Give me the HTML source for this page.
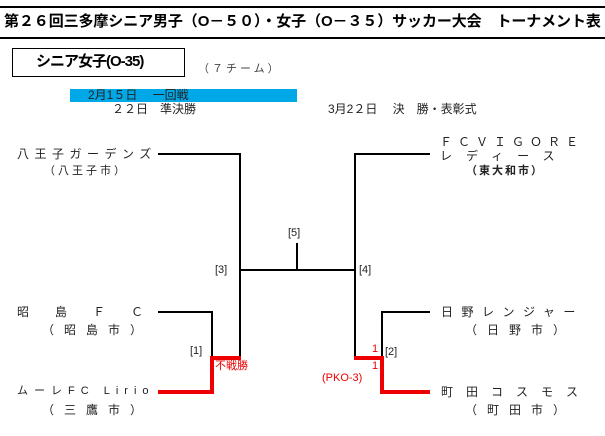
<!DOCTYPE html>
<html><head><meta charset="utf-8"><style>
body{margin:0;width:605px;height:436px;background:#fff;position:relative;overflow:hidden;font-family:"Liberation Sans","Noto Sans CJK JP",sans-serif;}
.t{position:absolute;white-space:nowrap;font-size:12px;color:#222;line-height:1;}
</style></head><body>
<div style="position:absolute;left:0;top:6px;width:605px;height:2px;background:#000"></div>
<div style="position:absolute;left:0;top:37px;width:605px;height:2px;background:#000"></div>
<div class="t" style="left:4px;top:14px;font-size:15px;font-weight:bold;color:#000;letter-spacing:-0.1px">第２６回三多摩シニア男子（O－５０）・女子（O－３５）サッカー大会　トーナメント表</div>
<div style="position:absolute;left:12px;top:48px;width:171px;height:27px;border:1px solid #000;"></div>
<div class="t" style="left:36px;top:54px;font-size:15px;font-weight:bold;color:#000;letter-spacing:-1px">シニア女子(O-35)</div>
<div class="t" style="left:198px;top:64px;font-size:11px;color:#444;letter-spacing:3px">（７チーム）</div>
<div style="position:absolute;left:70px;top:89px;width:227px;height:13px;background:#00a8e8"></div>
<div class="t" style="left:88px;top:89px;">2月1５日　 一回戦</div>
<div class="t" style="left:112px;top:103px;">２２日　準決勝</div>
<div class="t" style="left:328px;top:103px;">3月2２日　 決　勝・表彰式</div>

<svg width="605" height="436" style="position:absolute;left:0;top:0">
<g stroke="#000" stroke-width="2" fill="none">
<polyline points="158,154 240,154 240,358"/>
<polyline points="430,154 355,154 355,358"/>
<line x1="240" y1="270" x2="355" y2="270"/>
<line x1="297" y1="270" x2="297" y2="243"/>
<polyline points="158,312 212,312 212,356"/>
<polyline points="430,312 382,312 382,356"/>
</g>
<g stroke="#e00" stroke-width="4" fill="none">
<polyline points="158,392 212,392 212,358 241,358"/>
<polyline points="430,392 382,392 382,358 354,358"/>
</g>
</svg>

<div class="t" style="left:17px;top:148px;letter-spacing:5.5px">八王子ガーデンズ</div>
<div class="t" style="left:44px;top:166px;letter-spacing:3px;font-size:11px">（八王子市）</div>
<div class="t" style="left:440px;top:136px;letter-spacing:6px">ＦＣＶＩＧＯＲＥ</div>
<div class="t" style="left:440px;top:150px;letter-spacing:14px">レディース</div>
<div class="t" style="left:466px;top:166px;letter-spacing:2px;font-size:11px;font-weight:bold">（東大和市）</div>
<div class="t" style="left:17px;top:306px;letter-spacing:26px">昭島ＦＣ</div>
<div class="t" style="left:42px;top:324px;letter-spacing:10px">（昭島市）</div>
<div class="t" style="left:17px;top:386px;letter-spacing:6px;font-size:11px">ムーレFC Lirio</div>
<div class="t" style="left:42px;top:404px;letter-spacing:10px">（三鷹市）</div>
<div class="t" style="left:441px;top:306px;letter-spacing:8.5px">日野レンジャー</div>
<div class="t" style="left:465px;top:324px;letter-spacing:10px">（日野市）</div>
<div class="t" style="left:441px;top:386px;letter-spacing:13px">町田コスモス</div>
<div class="t" style="left:465px;top:404px;letter-spacing:10px">（町田市）</div>

<div class="t" style="left:288px;top:228px;font-size:11px">[5]</div>
<div class="t" style="left:215px;top:265px;font-size:11px">[3]</div>
<div class="t" style="left:359px;top:265px;font-size:11px">[4]</div>
<div class="t" style="left:190px;top:346px;font-size:11px">[1]</div>
<div class="t" style="left:385px;top:347px;font-size:11px">[2]</div>
<div class="t" style="left:215px;top:361px;font-size:11px;color:#e00">不戦勝</div>
<div class="t" style="left:372px;top:344px;font-size:11px;color:#e00">1</div>
<div class="t" style="left:372px;top:361px;font-size:11px;color:#e00">1</div>
<div class="t" style="left:322px;top:373px;font-size:11px;color:#e00">(PKO-3)</div>
</body></html>
